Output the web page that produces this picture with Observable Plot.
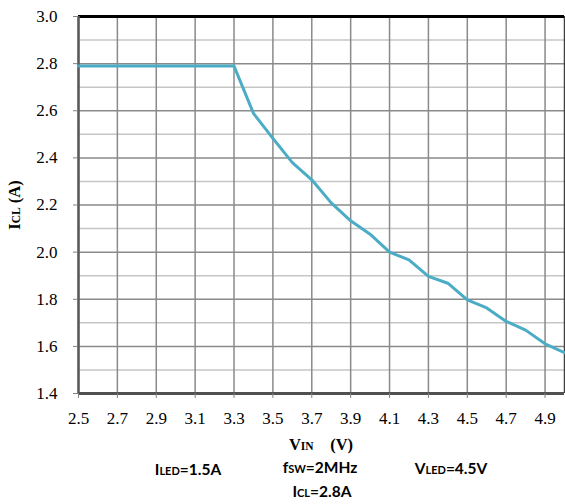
<!DOCTYPE html>
<html>
<head>
<meta charset="utf-8">
<script src="https://cdn.jsdelivr.net/npm/d3@7"></script>
<script src="https://cdn.jsdelivr.net/npm/@observablehq/plot@0.6"></script>
<style>
  html, body { margin: 0; padding: 0; background: #fff; }
  #chart svg { display: block; }
</style>
</head>
<body>
<div id="chart"></div>
<script>
// ---- data ----
const vin = [2.5, 2.6, 2.7, 2.8, 2.9, 3.0, 3.1, 3.2, 3.3, 3.4, 3.5, 3.6, 3.7, 3.8, 3.9, 4.0, 4.1, 4.2, 4.3, 4.4, 4.5, 4.6, 4.7, 4.8, 4.9, 5.0];
const icl = [2.79, 2.79, 2.79, 2.79, 2.79, 2.79, 2.79, 2.79, 2.79, 2.589, 2.483, 2.38, 2.307, 2.209, 2.133, 2.076, 2.0, 1.967, 1.897, 1.868, 1.797, 1.763, 1.706, 1.669, 1.611, 1.573];
const xTicks = [2.5, 2.7, 2.9, 3.1, 3.3, 3.5, 3.7, 3.9, 4.1, 4.3, 4.5, 4.7, 4.9];
const yTicks = [1.4, 1.6, 1.8, 2.0, 2.2, 2.4, 2.6, 2.8, 3.0];
const yMinor = [1.5, 1.7, 1.9, 2.1, 2.3, 2.5, 2.7, 2.9];
const xDomain = [2.5, 5.0];
const yDomain = [1.4, 3.0];

const data = vin.map((v, i) => ({vin: v, icl: icl[i]}));

const serif = "'Liberation Serif', 'DejaVu Serif', serif";
const sans = "Lato, 'Open Sans', 'Liberation Sans', sans-serif";

const chart = Plot.plot({
  width: 565,
  height: 504,
  marginTop: 16,
  marginLeft: 78,
  marginRight: 1,
  marginBottom: 111,
  style: {fontFamily: serif, fontSize: "17px", color: "#000", background: "#fff"},
  x: {domain: xDomain, label: null},
  y: {domain: yDomain, label: null},
  marks: [
    Plot.ruleY(yMinor, {stroke: "#c6c6c6", strokeWidth: 1.5}),
    Plot.ruleY(yTicks, {stroke: "#8a8a8a", strokeWidth: 1.5}),
    Plot.ruleX(xTicks, {stroke: "#8a8a8a", strokeWidth: 1.5}),
    Plot.ruleX([xDomain[1]], {stroke: "#404040", strokeWidth: 1.5}),
    Plot.ruleY([yDomain[1]], {stroke: "#000", strokeWidth: 3}),
    Plot.ruleX([xDomain[0]], {stroke: "#595959", strokeWidth: 2.5}),
    Plot.ruleY([yDomain[0]], {stroke: "#505050", strokeWidth: 3}),
    Plot.axisY({ticks: yTicks, tickFormat: d3.format(".1f"), tickSize: 5, tickPadding: 16, stroke: "#808080", fontSize: 17, label: null}),
    Plot.axisX({ticks: xTicks, tickFormat: d3.format(".1f"), tickSize: 5, tickPadding: 13, stroke: "#808080", fontSize: 17, label: null}),
    Plot.line(data, {x: "vin", y: "icl", stroke: "#4bacc6", strokeWidth: 3})
  ]
});
document.getElementById("chart").appendChild(chart);

// ---- titles and annotations ----
const svg = d3.select(chart);
function addLabel(x, y, parts, family, rotate) {
  const t = svg.append("text")
    .attr("text-anchor", "middle")
    .attr("font-family", family)
    .attr("font-weight", "bold")
    .attr("fill", "#000");
  if (rotate) t.attr("transform", `translate(${x},${y}) rotate(-90)`);
  else t.attr("x", x).attr("y", y);
  parts.forEach(([s, size]) => t.append("tspan").attr("font-size", size).text(s));
}
addLabel(20, 205, [["I", 16.5], ["CL", 11.5], ["\u00a0(A)", 16.5]], serif, true);
addLabel(321, 450, [["V", 16.5], ["IN", 11.5], ["\u00a0\u00a0\u00a0\u00a0(V)", 16.5]], serif, false);
addLabel(188, 475, [["I", 15.5], ["LED", 11], ["=1.5A", 15.5]], sans, false);
addLabel(320, 473, [["f", 15.5], ["SW", 11], ["=2MHz", 15.5]], sans, false);
addLabel(451, 474, [["V", 15.5], ["LED", 11], ["=4.5V", 15.5]], sans, false);
addLabel(322, 497, [["I", 15.5], ["CL", 11], ["=2.8A", 15.5]], sans, false);
</script>
</body>
</html>
